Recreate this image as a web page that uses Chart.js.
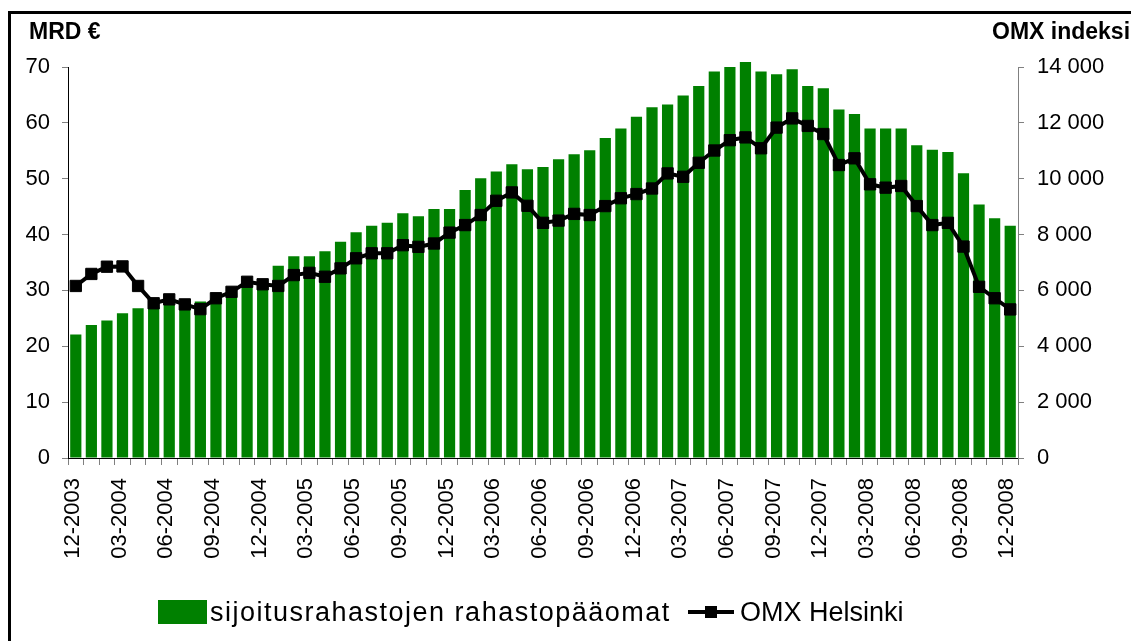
<!DOCTYPE html>
<html>
<head>
<meta charset="utf-8">
<title>Sijoitusrahastot ja OMX Helsinki</title>
<script src="https://cdn.jsdelivr.net/npm/chart.js@4"></script>
<style>
html, body {
    margin: 0;
    padding: 0;
    background: #fff;
    overflow: hidden;
}
body {
    width: 1131px;
    height: 641px;
    position: relative;
    font-family: "Liberation Sans", Arial, sans-serif;
    color: #000;
}
.frame {
    position: absolute;
    left: 8px;
    top: 11px;
    width: 1200px;
    height: 700px;
    border: 3px solid #000;
}
#chart {
    position: absolute;
    left: 0;
    top: 0;
}
.axisTitle {
    position: absolute;
    top: 20px;
    font-size: 23px;
    font-weight: bold;
    line-height: 23px;
    white-space: nowrap;
}
.legendText {
    position: absolute;
    top: 599px;
    font-size: 27px;
    line-height: 27px;
    white-space: nowrap;
}
</style>
</head>
<body>
<div class="frame"></div>
<canvas id="chart" width="1131" height="641"></canvas>

<div class="axisTitle" style="left:29px">MRD €</div>
<div class="axisTitle" style="left:992px">OMX indeksi</div>

<div style="position:absolute;left:158px;top:600px;width:49px;height:24px;background:#008000"></div>
<div class="legendText" style="left:210px;letter-spacing:1.5px">sijoitusrahastojen rahastopääomat</div>
<div style="position:absolute;left:688px;top:610px;width:46px;height:4px;background:#000"></div>
<div style="position:absolute;left:705px;top:606px;width:12px;height:12px;background:#000"></div>
<div class="legendText" style="left:740px">OMX Helsinki</div>

<script>
// months 12-2003 .. 12-2008
const months = [
  "12-2003",
  "01-2004", "02-2004", "03-2004", "04-2004", "05-2004", "06-2004",
  "07-2004", "08-2004", "09-2004", "10-2004", "11-2004", "12-2004",
  "01-2005", "02-2005", "03-2005", "04-2005", "05-2005", "06-2005",
  "07-2005", "08-2005", "09-2005", "10-2005", "11-2005", "12-2005",
  "01-2006", "02-2006", "03-2006", "04-2006", "05-2006", "06-2006",
  "07-2006", "08-2006", "09-2006", "10-2006", "11-2006", "12-2006",
  "01-2007", "02-2007", "03-2007", "04-2007", "05-2007", "06-2007",
  "07-2007", "08-2007", "09-2007", "10-2007", "11-2007", "12-2007",
  "01-2008", "02-2008", "03-2008", "04-2008", "05-2008", "06-2008",
  "07-2008", "08-2008", "09-2008", "10-2008", "11-2008", "12-2008",
];

// fund capital, billion EUR (left axis)
const fundCapital = [
  22.1,
  23.8, 24.6, 25.9, 26.8, 27.0, 27.5,
  27.3, 28.0, 28.6, 29.5, 31.0, 31.0,
  34.4, 36.1, 36.1, 37.0, 38.7, 40.4,
  41.6, 42.1, 43.8, 43.3, 44.6, 44.6,
  48.0, 50.1, 51.3, 52.6, 51.7, 52.1,
  53.5, 54.4, 55.1, 57.3, 59.0, 61.1,
  62.8, 63.3, 64.9, 66.6, 69.2, 70.0,
  70.9, 69.2, 68.7, 69.6, 66.6, 66.2,
  62.4, 61.6, 59.0, 59.0, 59.0, 56.0,
  55.2, 54.8, 51.0, 45.4, 42.9, 41.6,
];

// OMX Helsinki index (right axis)
const omxHelsinki = [
  6160,
  6590, 6850, 6860, 6160, 5540, 5680,
  5500, 5330, 5720, 5950, 6310, 6220,
  6160, 6550, 6630, 6490, 6790, 7150,
  7330, 7330, 7620, 7560, 7680, 8070,
  8340, 8700, 9210, 9510, 9030, 8420,
  8500, 8740, 8700, 9020, 9300, 9450,
  9650, 10190, 10070, 10570, 11010, 11380,
  11480, 11090, 11830, 12160, 11890, 11600,
  10490, 10730, 9800, 9680, 9740, 9020,
  8340, 8420, 7570, 6130, 5720, 5320,
];

const leftMax = 70;
const leftStep = 10;
const rightMax = 14000;
const rightStep = 2000;
const labelEvery = 3;

Chart.defaults.font.family = "'Liberation Sans', Arial, sans-serif";
Chart.defaults.color = "#000";

function spaced(v) {
  return String(v).replace(/\B(?=(\d{3})+(?!\d))/g, " ");
}

const ctx = document.getElementById("chart").getContext("2d");
const chart = new Chart(ctx, {
  type: "bar",
  data: {
    labels: months,
    datasets: [
      {
        type: "line",
        label: "OMX Helsinki",
        data: omxHelsinki,
        yAxisID: "y2",
        borderColor: "#000",
        backgroundColor: "#000",
        borderWidth: 4,
        pointStyle: "rect",
        pointRadius: 8,
        pointBorderWidth: 1,
        pointBackgroundColor: "#000",
        pointBorderColor: "#000",
        tension: 0,
        clip: false,
        order: 0,
      },
      {
        label: "sijoitusrahastojen rahastopääomat",
        data: fundCapital,
        yAxisID: "y",
        backgroundColor: "#008000",
        borderWidth: 0,
        categoryPercentage: 1,
        barPercentage: 0.72,
        clip: false,
        order: 1,
      },
    ],
  },
  options: {
    responsive: false,
    animation: false,
    devicePixelRatio: 1,
    layout: {
      padding: { top: 67, left: 0, right: 0, bottom: 0 },
    },
    plugins: {
      legend: { display: false },
      tooltip: { enabled: false },
    },
    scales: {
      x: {
        afterFit: (scale) => { scale.height = 183; },
        border: { color: "#000", width: 1 },
        grid: {
          drawOnChartArea: false,
          color: "#808080",
          tickLength: 7,
          offset: true,
        },
        ticks: {
          autoSkip: false,
          minRotation: 90,
          maxRotation: 90,
          padding: 13,
          labelOffset: -3,
          font: { size: 22 },
          callback: function (value, index) {
            return index % labelEvery === 0 ? months[index] : "";
          },
        },
      },
      y: {
        position: "left",
        min: 0,
        max: leftMax,
        afterFit: (scale) => { scale.width = 68; },
        border: { color: "#000", width: 1 },
        grid: { drawOnChartArea: false, color: "#808080", tickLength: 6 },
        ticks: { stepSize: leftStep, padding: 12, font: { size: 22 } },
      },
      y2: {
        position: "right",
        min: 0,
        max: rightMax,
        afterFit: (scale) => { scale.width = 113; },
        border: { color: "#808080", width: 1 },
        grid: { drawOnChartArea: false, color: "#808080", tickLength: 6 },
        ticks: {
          stepSize: rightStep,
          padding: 13,
          font: { size: 22 },
          callback: (v) => spaced(v),
        },
      },
    },
  },
});
</script>
</body>
</html>
